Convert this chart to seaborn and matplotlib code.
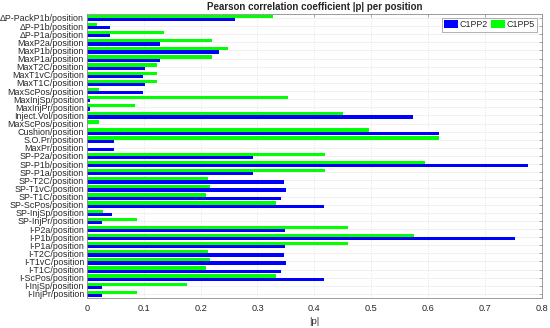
import matplotlib
matplotlib.use("Agg")
import matplotlib.pyplot as plt
import seaborn as sns
import pandas as pd
import numpy as np

labels = ["ΔP-PackP1b/position", "ΔP-P1b/position", "ΔP-P1a/position",
          "MaxP2a/position", "MaxP1b/position", "MaxP1a/position",
          "MaxT2C/position", "MaxT1vC/position", "MaxT1C/position",
          "MaxScPos/position", "MaxInjSp/position", "MaxInjPr/position",
          "Inject.Vol/position", "MaxScPos/position", "Cushion/position",
          "S.O.Pr/position", "MaxPr/position", "SP-P2a/position",
          "SP-P1b/position", "SP-P1a/position", "SP-T2C/position",
          "SP-T1vC/position", "SP-T1C/position", "SP-ScPos/position",
          "SP-InjSp/position", "SP-InjPr/position", "I-P2a/position",
          "I-P1b/position", "I-P1a/position", "I-T2C/position",
          "I-T1vC/position", "I-T1C/position", "I-ScPos/position",
          "I-InjSp/position", "I-InjPr/position"]

c1pp2 = [0.260, 0.040, 0.040, 0.128, 0.232, 0.128, 0.102, 0.099, 0.102,
         0.098, 0.006, 0.006, 0.573, 0.001, 0.619, 0.048, 0.047, 0.292,
         0.775, 0.292, 0.347, 0.350, 0.342, 0.417, 0.045, 0.027, 0.348,
         0.753, 0.348, 0.346, 0.350, 0.342, 0.417, 0.027, 0.027]

c1pp5 = [0.327, 0.017, 0.135, 0.220, 0.248, 0.220, 0.123, 0.124, 0.123,
         0.022, 0.353, 0.084, 0.450, 0.022, 0.496, 0.619, 0.000, 0.419,
         0.595, 0.419, 0.213, 0.217, 0.209, 0.333, 0.029, 0.088, 0.460,
         0.576, 0.460, 0.213, 0.217, 0.209, 0.333, 0.176, 0.088]

series = ["C1PP2", "C1PP5"]
colors = {"C1PP2": "#0000ff", "C1PP5": "#00ff00"}

idx = list(range(len(labels)))
df = pd.DataFrame({
    "pos": idx * 2,
    "value": c1pp2 + c1pp5,
    "series": ["C1PP2"] * len(labels) + ["C1PP5"] * len(labels),
})

sns.set_style("white")
plt.rcParams["font.family"] = ["Liberation Sans", "DejaVu Sans"]

fig = plt.figure(figsize=(5.5, 3.28), dpi=100)
ax = fig.add_axes([0.158, 0.0915, 0.827, 0.866])

sns.barplot(data=df, x="value", y="pos", hue="series", orient="h",
            hue_order=["C1PP5", "C1PP2"], palette=colors, width=0.8,
            saturation=1, ax=ax, linewidth=0, legend=True)

ax.set_yticks(idx)
ax.set_yticklabels(labels, fontsize=6.4, color="#262626")
ax.set_xlim(0, 0.8)
ax.set_xticks(np.arange(0, 0.81, 0.1))
ax.set_xticklabels(["0", "0.1", "0.2", "0.3", "0.4", "0.5", "0.6", "0.7", "0.8"],
                   fontsize=6.6, color="#262626")
ax.set_ylim(len(labels) - 0.5, -0.5)
ax.set_ylabel("")
ax.set_xlabel("|p|", fontsize=6.8, color="#262626", labelpad=3)
ax.set_title("Pearson correlation coefficient |p| per position",
             fontsize=7, fontweight="bold", pad=3)

ax.grid(True, axis="x", color="#dddddd", linestyle=":", linewidth=0.6)
ax.grid(True, axis="y", color="#ececec", linestyle="-", linewidth=0.5)
ax.set_axisbelow(True)
for s in ax.spines.values():
    s.set_visible(True)
    s.set_color("#8c8c8c")
    s.set_linewidth(0.6)
ax.tick_params(axis="both", direction="in", length=2, width=0.5,
               color="#8c8c8c", pad=2, right=True, top=True, left=False)
ax.tick_params(axis="x", pad=4)

handles, lbls = ax.get_legend_handles_labels()
hmap = dict(zip(lbls, handles))
leg = ax.legend([hmap["C1PP2"], hmap["C1PP5"]], ["C1PP2", "C1PP5"],
                loc="upper right", bbox_to_anchor=(0.99, 0.985), ncol=2,
                fontsize=6.4, frameon=True, fancybox=False,
                handlelength=1.6, handleheight=1.0, handletextpad=0.2,
                columnspacing=0.3, borderpad=0.25, borderaxespad=0)
leg.get_frame().set_edgecolor("#8c8c8c")
leg.get_frame().set_linewidth(0.6)

fig.savefig("out.png", dpi=100)
